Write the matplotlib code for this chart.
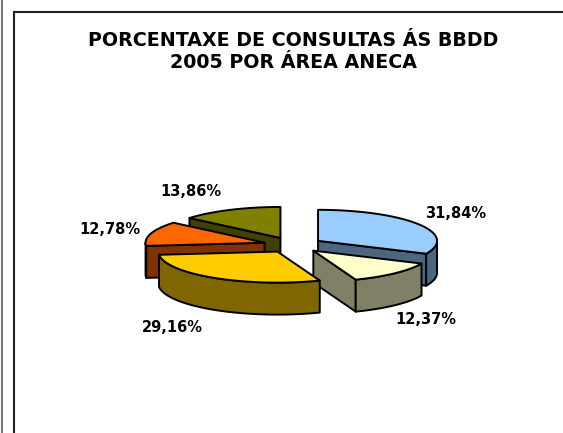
import numpy as np
import matplotlib
matplotlib.use("Agg")
import matplotlib.pyplot as plt
from matplotlib.patches import Polygon

plt.rcParams["font.family"] = ["DejaVu Sans"]

# Data
title_lines = ["PORCENTAXE DE CONSULTAS ÁS BBDD", "2005 POR ÁREA ANECA"]
shares = [31.84, 12.37, 29.16, 12.78, 13.86]
top_colors = ["#99CCFF", "#FFFFCC", "#FFCC00", "#FF6600", "#808000"]
side_colors = ["#4D6680", "#808066", "#806600", "#803300", "#404000"]

# Layout in pixels
cx, cy = 293, 245
rx, ry = 119, 31
depth = 32
explode = 0.25
label_pos = [(456, 214), (426, 320), (172, 327), (110, 230), (191, 191)]
draw_order = [4, 3, 0, 1, 2]

fig = plt.figure(figsize=(5.63, 4.33), dpi=100)
ax = fig.add_axes([0, 0, 1, 1])
ax.set_xlim(0, 563)
ax.set_ylim(433, 0)
ax.axis("off")

# Frame lines
ax.plot([1.5, 1.5], [0, 433], color="#777777", lw=1.5)
ax.plot([13.5, 13.5], [433, 11.5], color="#222222", lw=1.5)
ax.plot([13.5, 563], [11.5, 11.5], color="#222222", lw=1.5)

ax.text(293, 40, title_lines[0], ha="center", va="center", fontsize=13.7, fontweight="bold")
ax.text(293, 63, title_lines[1], ha="center", va="center", fontsize=13.7, fontweight="bold")


def rim(a, ox, oy):
    return ox + rx * np.sin(a), oy - ry * np.cos(a)


def add_poly(pts, color, z):
    ax.add_patch(Polygon(pts, closed=True, facecolor=color, edgecolor="black", lw=1.4, joinstyle="round", zorder=z))


# Slices run clockwise from 12 o'clock
edges = np.radians(np.cumsum([0] + shares) * 360 / sum(shares))

for n, i in enumerate(draw_order):
    a1, a2 = edges[i], edges[i + 1]
    mid = (a1 + a2) / 2
    ox = cx + explode * rx * np.sin(mid)
    oy = cy - explode * ry * np.cos(mid)
    z = 2 + n

    # Walls along the radial cuts, only when they face the viewer
    for a, show in [(a1, np.sin(a1) < 0), (a2, np.sin(a2) > 0.01)]:
        if show:
            x, y = rim(a, ox, oy)
            add_poly([(ox, oy), (x, y), (x, y + depth), (ox, oy + depth)], side_colors[i], z)

    # Outer wall, front half of the ellipse only
    lo, hi = max(a1, np.pi / 2), min(a2, 3 * np.pi / 2)
    if hi > lo:
        t = np.linspace(lo, hi, 60)
        xs, ys = rim(t, ox, oy)
        pts = list(zip(xs, ys)) + list(zip(xs[::-1], ys[::-1] + depth))
        add_poly(pts, side_colors[i], z)

    # Top face
    t = np.linspace(a1, a2, 80)
    xs, ys = rim(t, ox, oy)
    add_poly([(ox, oy)] + list(zip(xs, ys)), top_colors[i], z)

for v, (x, y) in zip(shares, label_pos):
    label = f"{v:.2f}%".replace(".", ",")
    ax.text(x, y, label, ha="center", va="center", fontsize=10.5, fontweight="bold", zorder=20)

fig.savefig("out.png", dpi=100)
